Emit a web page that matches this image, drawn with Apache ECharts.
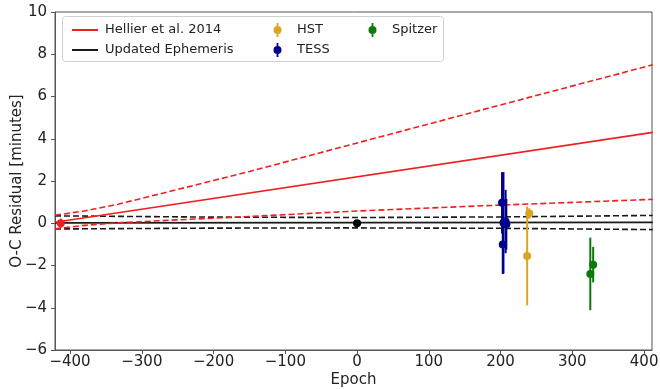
<!DOCTYPE html>
<html>
<head>
<meta charset="utf-8">
<script src="https://cdn.jsdelivr.net/npm/echarts@6/dist/echarts.min.js"></script>
<style>
  html, body { margin: 0; padding: 0; background: #fff; }
  #chart { width: 660px; height: 389px; }
</style>
</head>
<body>
<div id="chart"></div>
<script>
// ---- data ----
var xTicks = [-400, -300, -200, -100, 0, 100, 200, 300, 400];

// Hellier et al. 2014 ephemeris (solid) and its uncertainty band (dashed)
var hellierEpoch = [-421, 412];
var hellierValue = [0.05, 4.3];
var hellierBandEpoch = [-421, -380, -333, -250, -150, 0, 200, 412];
var hellierUpper = [0.38, 0.58, 0.9, 1.6, 2.45, 3.8, 5.6, 7.5];
var hellierLower = [-0.26, -0.1, 0.02, 0.16, 0.32, 0.58, 0.86, 1.13];

// updated ephemeris (solid) and band (dashed)
var updEpoch = [-421, 412];
var updValue = [0.02, 0.04];
var updBandEpoch = [-421, -200, 0, 200, 412];
var updUpper = [0.35, 0.29, 0.27, 0.3, 0.37];
var updLower = [-0.27, -0.23, -0.22, -0.24, -0.3];

// points: epoch, residual, error
var hellierPtEpoch = [-413], hellierPtValue = [0.0], hellierPtErr = [0.22];
var refPtEpoch = [0], refPtValue = [0.0], refPtErr = [0.12];
var tessEpoch = [202, 203, 204, 207, 208];
var tessValue = [0.97, -1.0, 0.02, 0.08, -0.05];
var tessErr = [1.45, 1.4, 2.4, 1.5, 1.2];
var hstEpoch = [240, 237];
var hstValue = [0.46, -1.55];
var hstErr = [0.25, 2.34];
var spitzerEpoch = [325, 329];
var spitzerValue = [-2.4, -1.96];
var spitzerErr = [1.72, 0.84];

var RED = '#f02020', BLACK = '#1a1a1a';
var C_HST = '#daa520', C_TESS = '#00008b', C_SPZ = '#0b7a0b';
var FONT = 'DejaVu Sans';
// marker with vertical error bar, same winding for both parts so nothing is cut out
var ebIcon = 'path://M3.6,0 L5.4,0 L5.4,14 L3.6,14 Z M0.5,7 A4,4 0 1,1 8.5,7 A4,4 0 1,1 0.5,7 Z';

function zip(xs, ys) { return xs.map(function (x, i) { return [x, ys[i]]; }); }
function zip3(xs, ys, es) { return xs.map(function (x, i) { return [x, ys[i], es[i]]; }); }
function fmt(v) { return String(v).replace('-', '\u2212'); }

function lineSeries(name, data, color, dashed, z) {
  return {
    name: name, type: 'line', data: data, symbol: 'none', silent: true, z: z || 2,
    lineStyle: { color: color, width: 1.6, type: dashed ? [6, 3] : 'solid' },
    itemStyle: { color: color }, animation: false
  };
}
function errSeries(name, data, color) {
  return {
    name: name, type: 'custom', data: data, z: 5, animation: false,
    itemStyle: { color: color },
    encode: { x: 0, y: 1 },
    renderItem: function (params, api) {
      var x = api.value(0), y = api.value(1), e = api.value(2);
      var p0 = api.coord([x, y - e]), p1 = api.coord([x, y + e]);
      return { type: 'line', shape: { x1: p0[0], y1: p0[1], x2: p1[0], y2: p1[1] },
               style: { stroke: color, lineWidth: 2 } };
    }
  };
}
function dotSeries(name, data, color) {
  return {
    name: name, type: 'scatter', data: data, symbol: 'circle', symbolSize: 8, z: 6,
    itemStyle: { color: color, opacity: 1 }, animation: false
  };
}

var chart = echarts.init(document.getElementById('chart'));
function legendText(padLeft) {
  return { fontFamily: FONT, fontSize: 13, color: '#222', lineHeight: 14, padding: [0, 0, 0, padLeft] };
}
var option = {
  animation: false,
  grid: { left: 55, right: 8, top: 12, bottom: 39, show: true, borderColor: '#555', borderWidth: 1,
          containLabel: false, outerBoundsMode: 'none' },
  xAxis: {
    type: 'value', min: -421, max: 411,
    name: 'Epoch', nameLocation: 'middle', nameGap: 23, nameMoveOverlap: false,
    nameTextStyle: { fontFamily: FONT, fontSize: 15, color: '#222' },
    axisLine: { show: true, onZero: false, lineStyle: { color: '#555' } },
    axisTick: { show: true, length: 4, customValues: xTicks, lineStyle: { color: '#555' } },
    axisLabel: { customValues: xTicks, formatter: fmt, fontFamily: FONT, fontSize: 15, color: '#222', margin: 5 },
    splitLine: { show: false }
  },
  yAxis: {
    type: 'value', min: -6, max: 10, interval: 2,
    name: 'O-C Residual [minutes]', nameLocation: 'middle', nameGap: 30, nameRotate: 90, nameMoveOverlap: false,
    nameTextStyle: { fontFamily: FONT, fontSize: 15, color: '#222' },
    axisLine: { show: true, onZero: false, lineStyle: { color: '#555' } },
    axisTick: { show: true, length: 4, lineStyle: { color: '#555' } },
    axisLabel: { formatter: fmt, fontFamily: FONT, fontSize: 15, color: '#222', margin: 8 },
    splitLine: { show: false }
  },
  graphic: [{
    type: 'rect', left: 62, top: 16, z: 100,
    shape: { width: 381, height: 45, r: 3 },
    style: { fill: 'rgba(255,255,255,0.8)', stroke: '#d0d0d0', lineWidth: 1 }
  }],
  legend: [
    { data: ['Hellier et al. 2014', 'Updated Ephemeris'], orient: 'vertical', left: 67, top: 18,
      icon: 'rect', itemWidth: 26, itemHeight: 2, itemGap: 6, textStyle: legendText(2), z: 101, selectedMode: false },
    { data: [{ name: 'HST', icon: ebIcon }, { name: 'TESS', icon: ebIcon }], orient: 'vertical', left: 268.5, top: 18,
      itemWidth: 9, itemHeight: 14, itemGap: 6, textStyle: legendText(10), z: 101, selectedMode: false },
    { data: [{ name: 'Spitzer', icon: ebIcon }], orient: 'vertical', left: 363.5, top: 18,
      itemWidth: 9, itemHeight: 14, itemGap: 6, textStyle: legendText(10), z: 101, selectedMode: false }
  ],
  series: [
    lineSeries('Hellier et al. 2014', zip(hellierEpoch, hellierValue), RED, false, 3),
    lineSeries('Hellier et al. 2014', zip(hellierBandEpoch, hellierUpper), RED, true, 3),
    lineSeries('Hellier et al. 2014', zip(hellierBandEpoch, hellierLower), RED, true, 3),
    lineSeries('Updated Ephemeris', zip(updEpoch, updValue), BLACK, false, 2),
    lineSeries('Updated Ephemeris', zip(updBandEpoch, updUpper), BLACK, true, 2),
    lineSeries('Updated Ephemeris', zip(updBandEpoch, updLower), BLACK, true, 2),
    dotSeries('hellierPt', zip(hellierPtEpoch, hellierPtValue), RED),
    errSeries('hellierPt', zip3(hellierPtEpoch, hellierPtValue, hellierPtErr), RED),
    dotSeries('refPt', zip(refPtEpoch, refPtValue), '#000'),
    errSeries('refPt', zip3(refPtEpoch, refPtValue, refPtErr), '#000'),
    dotSeries('HST', zip(hstEpoch, hstValue), C_HST),
    errSeries('HST', zip3(hstEpoch, hstValue, hstErr), C_HST),
    dotSeries('TESS', zip(tessEpoch, tessValue), C_TESS),
    errSeries('TESS', zip3(tessEpoch, tessValue, tessErr), C_TESS),
    dotSeries('Spitzer', zip(spitzerEpoch, spitzerValue), C_SPZ),
    errSeries('Spitzer', zip3(spitzerEpoch, spitzerValue, spitzerErr), C_SPZ)
  ]
};
chart.setOption(option);
</script>
</body>
</html>
